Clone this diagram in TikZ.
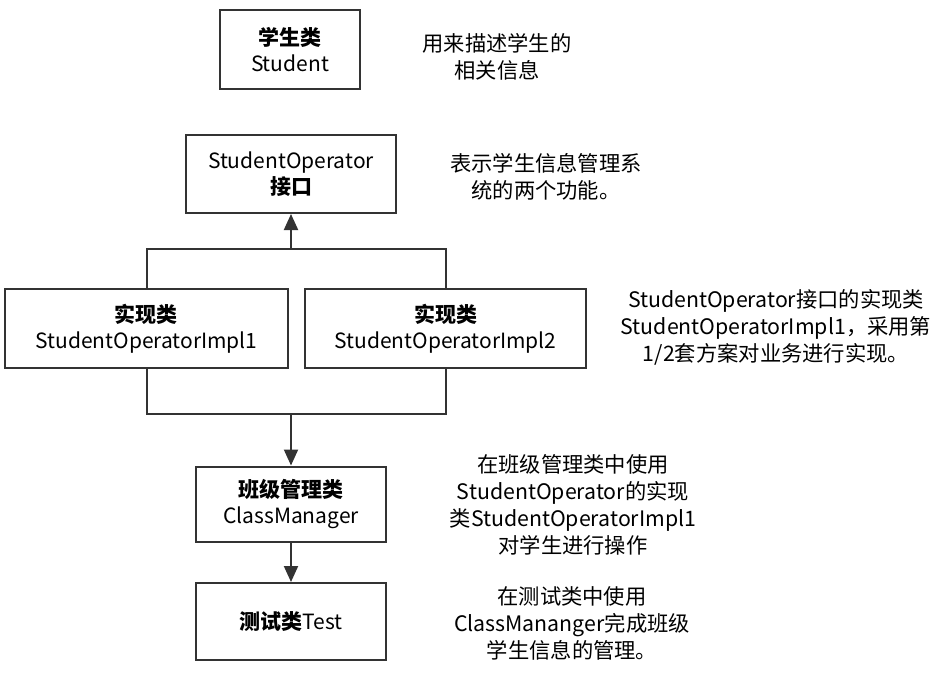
\documentclass[tikz,border=0pt]{standalone}
\usepackage{fontspec}
\setmainfont{Noto Sans CJK SC}
\usetikzlibrary{arrows.meta}
\tikzset{
  box/.style={draw=black!80, line width=2pt, inner sep=0pt, align=center,
    font=\fontsize{21}{26}\selectfont},
  note/.style={align=center, inner sep=0pt, font=\fontsize{21.3}{27}\selectfont},
  link/.style={draw=black!80, line width=2pt},
  tip/.style={-{Triangle[length=16pt,width=14pt]}}
}
\begin{document}
\begin{tikzpicture}[x=1pt,y=-1pt]
\useasboundingbox (0,0) rectangle (940,674);
%\draw [help lines,black!20!white] (0,0) grid[step=50] (940,674);

\node[box, minimum width=140pt, minimum height=79pt] (student) at (290,50) {\textbf{学生类}\\Student};
\node[box, minimum width=210pt, minimum height=78pt] (op) at (291,174) {StudentOperator\\\textbf{接口}};
\node[box, minimum width=283pt, minimum height=79pt] (impl1) at (146.5,328.5) {\textbf{实现类}\\StudentOperatorImpl1};
\node[box, minimum width=281pt, minimum height=79pt] (impl2) at (445.5,328.5) {\textbf{实现类}\\StudentOperatorImpl2};
\node[box, minimum width=190pt, minimum height=75pt] (cm) at (291,504) {\textbf{班级管理类}\\ClassManager};
\node[box, minimum width=190pt, minimum height=77pt] (test) at (291,621.5) {\textbf{测试类}Test};

\coordinate (up) at (291,249);
\coordinate (down) at (291,414);
\draw[link] (impl1.north) |- (up) -| (impl2.north);
\draw[link, tip] (up) -- (op.south);
\draw[link] (impl1.south) |- (down) -| (impl2.south);
\draw[link, tip] (down) -- (cm.north);
\draw[link, tip] (cm.south) -- (test.north);

\node[note] (n1) at (497,57) {用来描述学生的\\相关信息};
\node[note] (n2) at (546,177) {表示学生信息管理系\\统的两个功能。};
\node[note] (n3) at (776,327) {StudentOperator接口的实现类\\StudentOperatorImpl1，采用第\\1/2套方案对业务进行实现。};
\node[note] (n4) at (573,505) {在班级管理类中使用\\StudentOperator的实现\\类StudentOperatorImpl1\\对学生进行操作};
\node[note] (n5) at (572,623) {在测试类中使用\\ClassMananger完成班级\\学生信息的管理。};

\end{tikzpicture}
\end{document}
